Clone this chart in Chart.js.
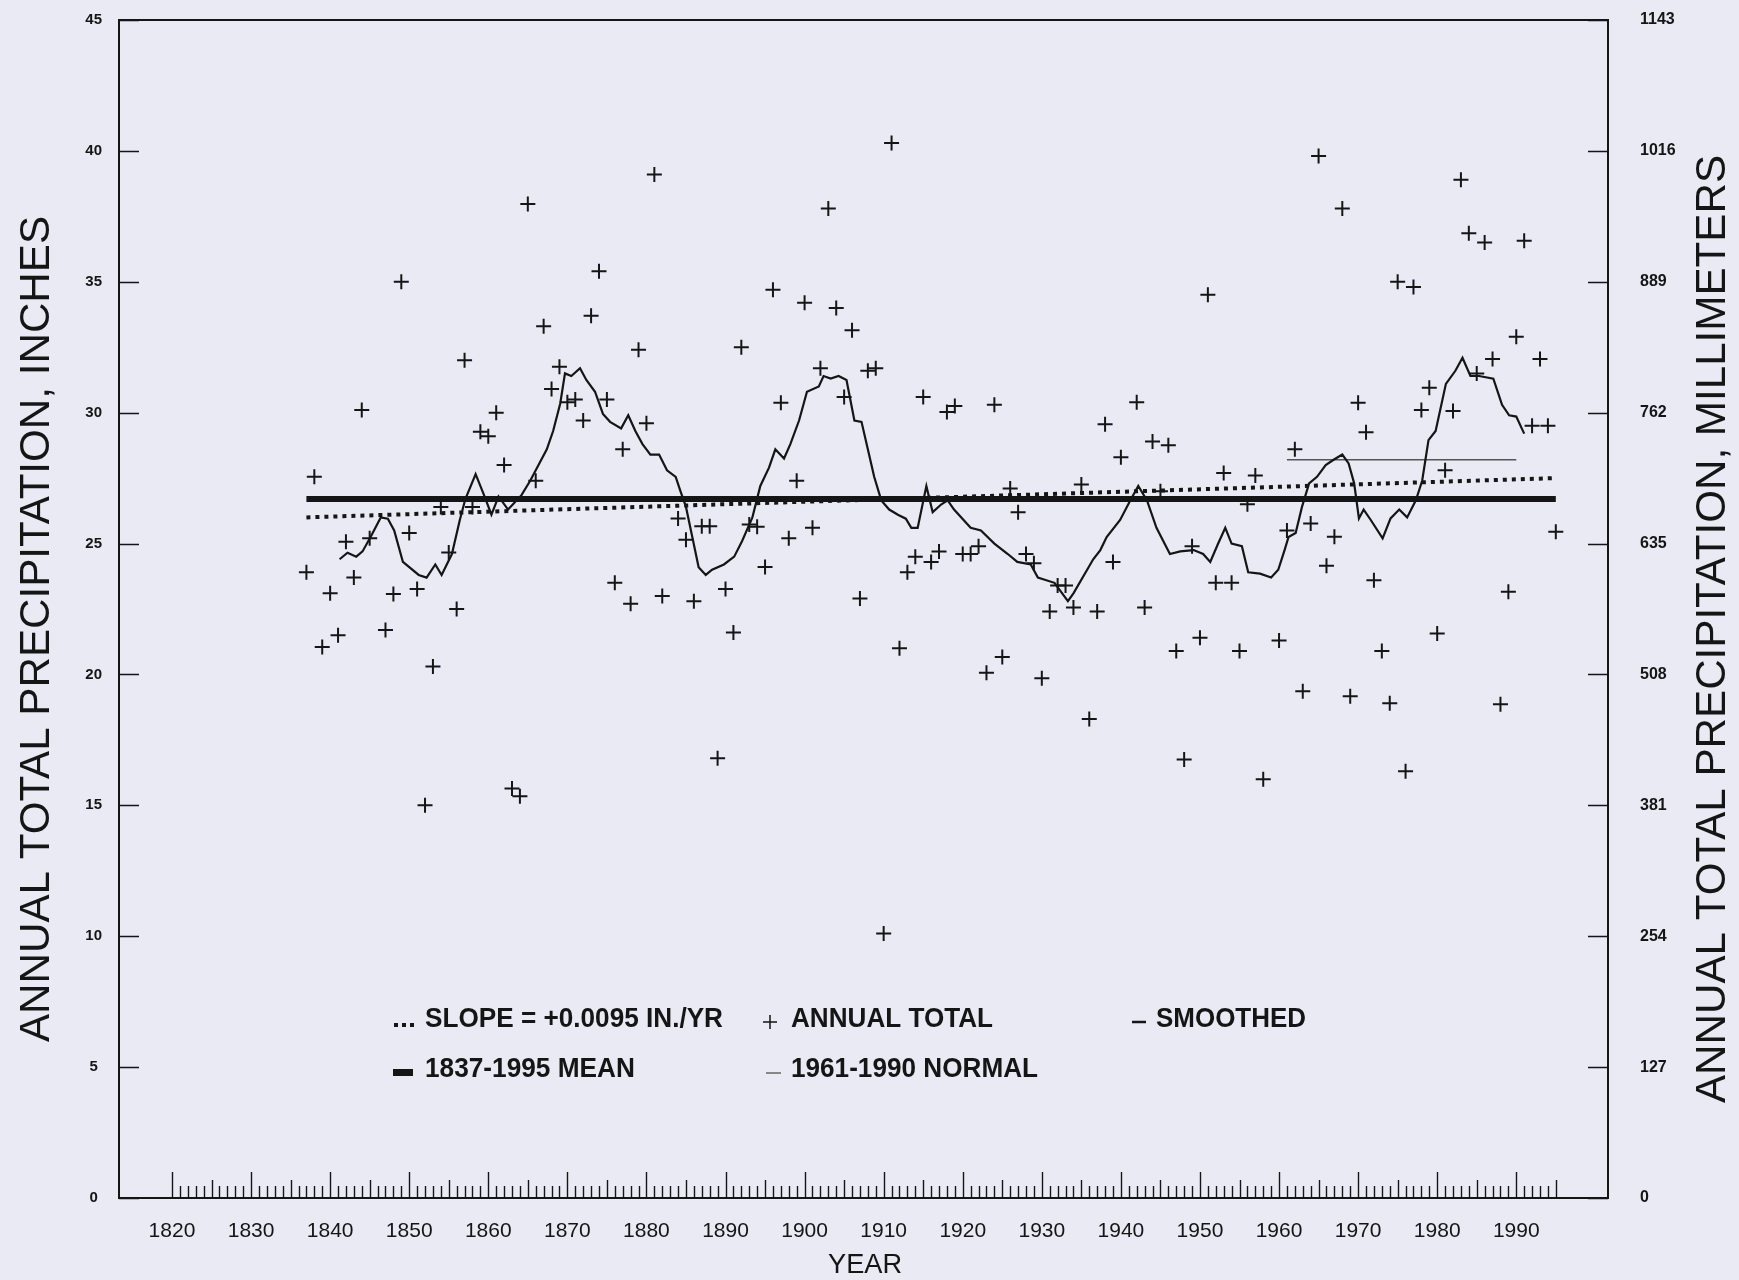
<!DOCTYPE html>
<html>
<head>
<meta charset="utf-8">
<script src="https://cdn.jsdelivr.net/npm/chart.js@4.4.0/dist/chart.umd.min.js"></script>
<style>
    html, body { margin: 0; padding: 0; background: #e9eaf3; }
    #wrap { width: 1739px; height: 1280px; }
</style>
</head>
<body>
<div id="wrap"><canvas id="chart" width="1739" height="1280"></canvas></div>
<script>
// Annual totals (inches)
const years = [
    1837, 1838, 1839, 1840, 1841, 1842, 1843, 1844, 1845, 1847, 1848, 1849, 1850,
    1851, 1852, 1853, 1854, 1855, 1856, 1857, 1858, 1859, 1860, 1861, 1862, 1863,
    1864, 1865, 1866, 1867, 1868, 1869, 1870, 1871, 1872, 1873, 1874, 1875, 1876,
    1877, 1878, 1879, 1880, 1881, 1882, 1884, 1885, 1886, 1887, 1888, 1889, 1890,
    1891, 1892, 1893, 1894, 1895, 1896, 1897, 1898, 1899, 1900, 1901, 1902, 1903,
    1904, 1905, 1906, 1907, 1908, 1909, 1910, 1911, 1912, 1913, 1914, 1915, 1916,
    1917, 1918, 1919, 1920, 1921, 1922, 1923, 1924, 1925, 1926, 1927, 1928, 1929,
    1930, 1931, 1932, 1933, 1934, 1935, 1936, 1937, 1938, 1939, 1940, 1942, 1943,
    1944, 1945, 1946, 1947, 1948, 1949, 1950, 1951, 1952, 1953, 1954, 1955, 1956,
    1957, 1958, 1960, 1961, 1962, 1963, 1964, 1965, 1966, 1967, 1968, 1969, 1970,
    1971, 1972, 1973, 1974, 1975, 1976, 1977, 1978, 1979, 1980, 1981, 1982, 1983,
    1984, 1985, 1986, 1987, 1988, 1989, 1990, 1991, 1992, 1993, 1994, 1995
];
const annualTotal = [
    23.9, 27.55, 21.05, 23.1, 21.5, 25.07, 23.7, 30.1, 25.2, 21.7, 23.07, 35.0, 25.4,
    23.26, 15.0, 20.3, 26.4, 24.66, 22.5, 32.0, 26.4, 29.27, 29.1, 30.0, 28.0, 15.64,
    15.35, 37.97, 27.4, 33.3, 30.9, 31.75, 30.4, 30.5, 29.7, 33.7, 35.4, 30.5, 23.5,
    28.6, 22.7, 32.4, 29.6, 39.1, 23.0, 25.96, 25.15, 22.8, 25.66, 25.66, 16.8, 23.26,
    21.6, 32.5, 25.73, 25.64, 24.1, 34.7, 30.38, 25.2, 27.4, 34.2, 25.6, 31.7, 37.8,
    34.0, 30.6, 33.15, 22.9, 31.6, 31.7, 10.1, 40.3, 21.0, 23.9, 24.5, 30.6, 24.3,
    24.7, 30.03, 30.25, 24.6, 24.6, 24.9, 20.06, 30.3, 20.67, 27.1, 26.2, 24.6, 24.25,
    19.85, 22.4, 23.4, 23.4, 22.56, 27.26, 18.3, 22.4, 29.56, 24.3, 28.3, 30.4, 22.56,
    28.9, 27.0, 28.76, 20.9, 16.75, 24.9, 21.4, 34.5, 23.5, 27.7, 23.5, 20.9, 26.5,
    27.6, 16.0, 21.3, 25.5, 28.6, 19.36, 25.77, 39.8, 24.15, 25.26, 37.8, 19.17, 30.38,
    29.25, 23.6, 20.9, 18.9, 35.0, 16.3, 34.8, 30.1, 30.95, 21.56, 27.8, 30.06, 38.9,
    36.85, 31.5, 36.5, 32.05, 18.86, 23.16, 32.9, 36.57, 29.5, 32.05, 29.5, 25.45
];

// Smoothed curve, vertices
const smoothYears = [
    1841.2, 1842.2, 1843.3, 1844.1, 1845.2, 1846.4, 1847.3, 1848.1, 1849.2, 1851.2,
    1852.2, 1853.3, 1854.1, 1855.4, 1856.4, 1857.1, 1858.4, 1859.4, 1860.4, 1861.3,
    1862.5, 1864.2, 1865.3, 1867.4, 1868.2, 1869.1, 1869.7, 1870.5, 1871.6, 1872.4,
    1873.5, 1874.5, 1875.4, 1876.8, 1877.7, 1878.6, 1879.5, 1880.5, 1881.6, 1882.6,
    1883.7, 1884.3, 1885.0, 1885.8, 1886.6, 1887.5, 1888.3, 1889.8, 1891.1, 1892.1,
    1893.4, 1894.4, 1895.5, 1896.3, 1897.4, 1898.2, 1899.3, 1900.3, 1901.8, 1902.4,
    1903.3, 1904.3, 1905.3, 1906.3, 1907.2, 1908.0, 1908.8, 1909.7, 1910.7, 1911.8,
    1912.8, 1913.5, 1914.3, 1915.4, 1916.2, 1917.3, 1918.1, 1918.9, 1921.0, 1922.3,
    1924.0, 1925.7, 1926.9, 1928.6, 1929.5, 1931.6, 1933.3, 1934.0, 1936.5, 1937.4,
    1938.2, 1939.9, 1941.2, 1942.2, 1943.3, 1944.5, 1946.2, 1947.5, 1949.2, 1950.4,
    1951.3, 1952.3, 1953.2, 1954.0, 1955.3, 1956.1, 1957.6, 1959.0, 1959.9, 1960.7,
    1961.2, 1962.1, 1962.9, 1963.8, 1964.8, 1965.9, 1966.9, 1968.0, 1968.8, 1969.5,
    1970.1, 1970.7, 1971.6, 1973.1, 1974.1, 1975.2, 1976.2, 1977.3, 1978.1, 1978.9,
    1979.8, 1981.1, 1982.3, 1983.2, 1984.2, 1985.3, 1987.1, 1988.2, 1989.1, 1990.0,
    1991.0
];
const smoothValues = [
    24.4, 24.65, 24.5, 24.7, 25.3, 26.0, 25.95, 25.5, 24.3, 23.8,
    23.7, 24.2, 23.8, 24.6, 25.9, 26.7, 27.65, 26.9, 26.1, 26.8,
    26.3, 26.85, 27.4, 28.6, 29.3, 30.35, 31.5, 31.4, 31.7, 31.25,
    30.8, 29.95, 29.65, 29.4, 29.9, 29.3, 28.8, 28.4, 28.4, 27.8,
    27.55, 27.0, 26.4, 25.25, 24.1, 23.8, 24.0, 24.2, 24.5, 25.1,
    26.0, 27.2, 27.9, 28.6, 28.25, 28.8, 29.7, 30.8, 31.0, 31.4,
    31.3, 31.4, 31.25, 29.7, 29.65, 28.6, 27.55, 26.65, 26.3, 26.1,
    25.95, 25.6, 25.6, 27.2, 26.2, 26.5, 26.65, 26.3, 25.6, 25.5,
    25.0, 24.6, 24.3, 24.2, 23.7, 23.5, 22.8, 23.1, 24.4, 24.75,
    25.25, 25.9, 26.65, 27.2, 26.65, 25.6, 24.6, 24.7, 24.75, 24.6,
    24.3, 25.0, 25.6, 25.0, 24.9, 23.9, 23.85, 23.7, 24.0, 24.75,
    25.25, 25.4, 26.4, 27.3, 27.55, 28.0, 28.2, 28.4, 28.06, 27.3,
    25.96, 26.3, 25.9, 25.2, 25.96, 26.3, 26.0, 26.65, 27.4, 28.95,
    29.3, 31.1, 31.6, 32.1, 31.4, 31.4, 31.3, 30.3, 29.9, 29.85,
    29.2
];

// Reference lines
const meanYears = [1837, 1995];
const meanValues = [26.7, 26.7];
const trendYears = [1837, 1995];
const trendValues = [26.0, 27.5];
const normalYears = [1961, 1990];
const normalValues = [28.2, 28.2];

// Tick labels
const yearTicks = [1820, 1830, 1840, 1850, 1860, 1870, 1880, 1890, 1900, 1910,
    1920, 1930, 1940, 1950, 1960, 1970, 1980, 1990];
const inchTicks = [0, 5, 10, 15, 20, 25, 30, 35, 40, 45];
const mmTicks = [0, 127, 254, 381, 508, 635, 762, 889, 1016, 1143];

const INK = '#151515';

function pairs(xs, ys) {
    return xs.map((x, i) => ({ x: x, y: ys[i] }));
}

// draw text squeezed/stretched to a given width
function fitText(ctx, text, x, y, width, font) {
    ctx.save();
    ctx.font = font;
    const w = ctx.measureText(text).width;
    ctx.translate(x, y);
    ctx.scale(width / w, 1);
    ctx.textAlign = 'left';
    ctx.textBaseline = 'middle';
    ctx.fillText(text, 0, 0);
    ctx.restore();
}

// fixed axis boxes so the plot frame lands where the original has it
function fixBox(width) {
    return s => {
        s.width = width;
        s.paddingTop = 0;
        s.paddingBottom = 0;
    };
}

const decorations = {
    id: 'decorations',
    afterDraw(chart) {
        const ctx = chart.ctx;
        const area = chart.chartArea;
        const xs = chart.scales.x;
        const yl = chart.scales.y;
        ctx.save();
        ctx.strokeStyle = INK;
        ctx.fillStyle = INK;

        // frame
        ctx.lineWidth = 2;
        ctx.strokeRect(area.left, area.top, area.right - area.left, area.bottom - area.top);

        // inner ticks on both value axes
        ctx.lineWidth = 1.5;
        inchTicks.forEach(v => {
            const py = Math.round(yl.getPixelForValue(v)) + 0.5;
            ctx.beginPath();
            ctx.moveTo(area.left, py);
            ctx.lineTo(area.left + 20, py);
            ctx.moveTo(area.right, py);
            ctx.lineTo(area.right - 20, py);
            ctx.stroke();
        });

        // year ruler along the bottom
        ctx.lineWidth = 1.4;
        for (let yr = yearTicks[0]; yr <= 1995; yr++) {
            const px = Math.round(xs.getPixelForValue(yr)) + 0.5;
            const len = yr % 10 === 0 ? 26 : (yr % 5 === 0 ? 18 : 12);
            ctx.beginPath();
            ctx.moveTo(px, area.bottom);
            ctx.lineTo(px, area.bottom - len);
            ctx.stroke();
        }

        // axis titles
        const titleFont = '42px "Liberation Sans", Arial, sans-serif';
        ctx.save();
        ctx.translate(37, 629);
        ctx.rotate(-Math.PI / 2);
        fitText(ctx, 'ANNUAL TOTAL PRECIPITATION, INCHES', -413, 0, 826, titleFont);
        ctx.restore();
        ctx.save();
        ctx.translate(1713, 629);
        ctx.rotate(-Math.PI / 2);
        fitText(ctx, 'ANNUAL TOTAL PRECIPITATION, MILLIMETERS', -474, 0, 948, titleFont);
        ctx.restore();
        fitText(ctx, 'YEAR', 828, 1265, 74, '28px "Liberation Sans", Arial, sans-serif');

        // legend
        const lf = 'bold 27px "Liberation Sans", Arial, sans-serif';
        const r1 = 1020, r2 = 1070;
        fitText(ctx, 'SLOPE = +0.0095 IN./YR', 425, r1, 298, lf);
        fitText(ctx, 'ANNUAL TOTAL', 791, r1, 202, lf);
        fitText(ctx, 'SMOOTHED', 1156, r1, 150, lf);
        fitText(ctx, '1837-1995 MEAN', 425, r2, 210, lf);
        fitText(ctx, '1961-1990 NORMAL', 791, r2, 247, lf);

        // legend symbols
        [396, 404, 412].forEach(px => ctx.fillRect(px - 2, r1 + 3, 4, 4));
        ctx.lineWidth = 1.5;
        ctx.beginPath();
        ctx.moveTo(763, r1 + 2); ctx.lineTo(777, r1 + 2);
        ctx.moveTo(770, r1 - 5); ctx.lineTo(770, r1 + 9);
        ctx.stroke();
        ctx.lineWidth = 2.5;
        ctx.beginPath();
        ctx.moveTo(1132, r1 + 2); ctx.lineTo(1146, r1 + 2);
        ctx.stroke();
        ctx.fillRect(393, r2 - 1, 20, 7);
        ctx.strokeStyle = '#666';
        ctx.lineWidth = 1.5;
        ctx.beginPath();
        ctx.moveTo(766, r2 + 3); ctx.lineTo(781, r2 + 3);
        ctx.stroke();

        ctx.restore();
    }
};

const ctx = document.getElementById('chart').getContext('2d');
new Chart(ctx, {
    type: 'scatter',
    data: {
        datasets: [
            {
                label: 'ANNUAL TOTAL',
                data: pairs(years, annualTotal),
                pointStyle: 'cross',
                pointRadius: 7.5,
                pointBorderWidth: 2,
                borderColor: INK,
                backgroundColor: INK,
                showLine: false
            },
            {
                label: 'SMOOTHED',
                data: pairs(smoothYears, smoothValues),
                showLine: true,
                pointRadius: 0,
                borderWidth: 2.2,
                borderColor: INK,
                tension: 0
            },
            {
                label: '1837-1995 MEAN',
                data: pairs(meanYears, meanValues),
                showLine: true,
                pointRadius: 0,
                borderWidth: 6,
                borderColor: INK
            },
            {
                label: 'SLOPE = +0.0095 IN./YR',
                data: pairs(trendYears, trendValues),
                showLine: true,
                pointRadius: 0,
                borderWidth: 4,
                borderDash: [4, 5],
                borderColor: INK
            },
            {
                label: '1961-1990 NORMAL',
                data: pairs(normalYears, normalValues),
                showLine: true,
                pointRadius: 0,
                borderWidth: 1.5,
                borderColor: '#555'
            }
        ]
    },
    options: {
        responsive: false,
        animation: false,
        devicePixelRatio: 1,
        layout: { padding: { top: 20, left: 0, right: 0, bottom: 0 } },
        plugins: {
            legend: { display: false },
            tooltip: { enabled: false }
        },
        scales: {
            x: {
                type: 'linear',
                position: 'bottom',
                min: 1813.3,
                max: 2001.6,
                grid: { display: false, drawTicks: false },
                border: { display: false },
                afterBuildTicks: s => { s.ticks = yearTicks.map(v => ({ value: v })); },
                afterFit: s => { s.height = 82; },
                ticks: {
                    color: INK,
                    padding: 21,
                    maxRotation: 0,
                    autoSkip: false,
                    font: { family: '"Liberation Sans", Arial, sans-serif', size: 21 },
                    callback: v => String(v)
                }
            },
            y: {
                type: 'linear',
                position: 'left',
                min: 0,
                max: 45,
                grid: { display: false, drawTicks: false },
                border: { display: false },
                afterBuildTicks: s => { s.ticks = inchTicks.map(v => ({ value: v })); },
                afterFit: fixBox(119),
                ticks: {
                    color: INK,
                    padding: 17,
                    crossAlign: 'center',
                    font: { family: '"Liberation Sans", Arial, sans-serif', size: 15, weight: 'bold' },
                    callback: v => String(v)
                }
            },
            mm: {
                type: 'linear',
                position: 'right',
                min: 0,
                max: 1143,
                grid: { display: false, drawTicks: false },
                border: { display: false },
                afterBuildTicks: s => { s.ticks = mmTicks.map(v => ({ value: v })); },
                afterFit: fixBox(131),
                ticks: {
                    color: INK,
                    padding: 32,
                    font: { family: '"Liberation Sans", Arial, sans-serif', size: 16, weight: 'bold' },
                    callback: v => String(v)
                }
            }
        }
    },
    plugins: [decorations]
});
</script>
</body>
</html>
